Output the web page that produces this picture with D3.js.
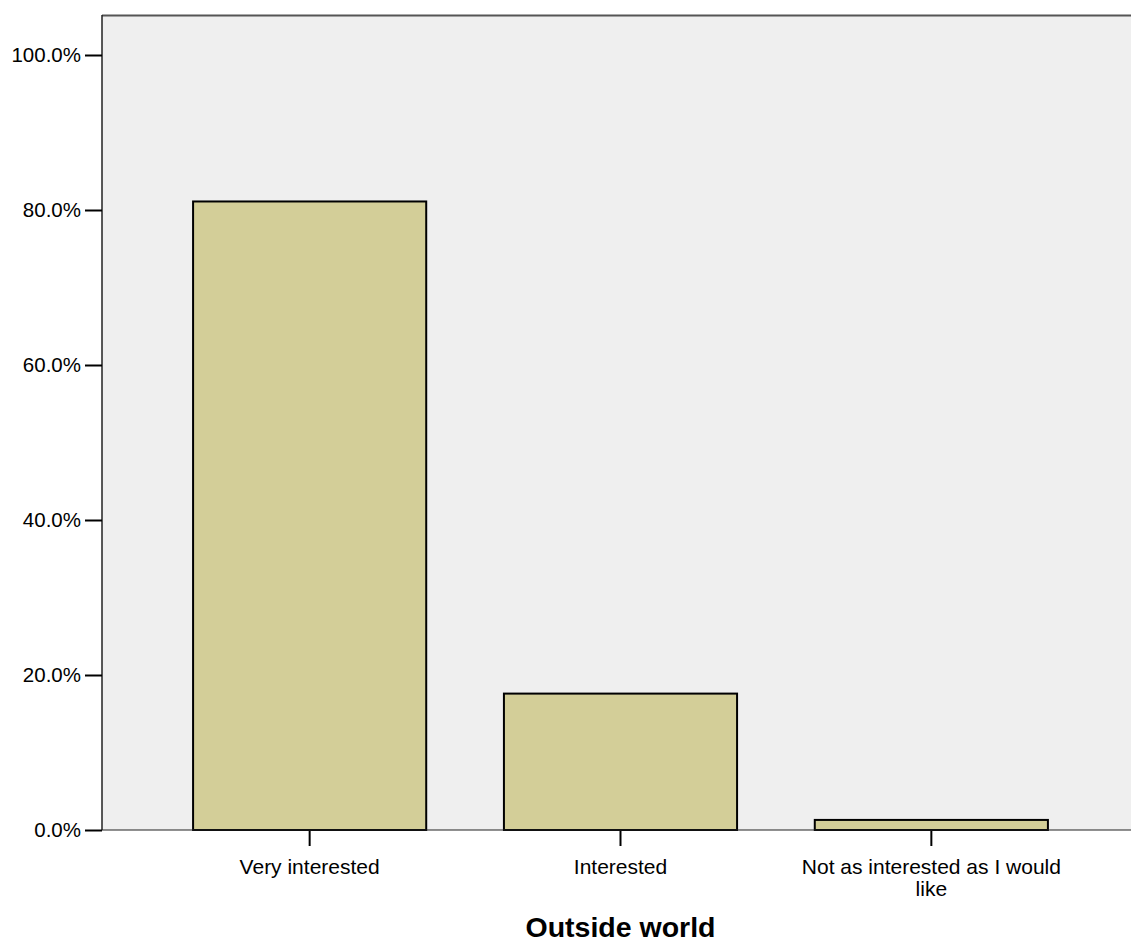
<!DOCTYPE html>
<html><head><meta charset="utf-8">
<script src="https://cdn.jsdelivr.net/npm/d3@7/dist/d3.min.js"></script>
<style>body{margin:0;background:#fff;} svg{display:block;font-family:"Liberation Sans",Arial,sans-serif;}</style>
</head><body>
<script>
const categories = ["Very interested", "Interested", "Not as interested as I would like"];
const values = [81.1, 17.6, 1.3];
const yTicks = [0, 20, 40, 60, 80, 100];
const xTitle = "Outside world";

const W = 1131, H = 944;
const mLeft = 102, mTop = 15, mBottom = 830, mRight = 1131;
const svg = d3.select("body").append("svg").attr("width", W).attr("height", H);

const y = d3.scaleLinear().domain([0, 100]).range([mBottom, 55]);
const x = d3.scaleBand().domain(categories).range([mLeft, 1139]).paddingInner(0.25).paddingOuter(0.293);

svg.append("rect").attr("x", mLeft).attr("y", mTop).attr("width", mRight - mLeft).attr("height", mBottom - mTop).attr("fill", "#efefef");
svg.append("line").attr("x1", mLeft).attr("x2", mRight).attr("y1", mTop + 0.5).attr("y2", mTop + 0.5).attr("stroke", "#555").attr("stroke-width", 2);

svg.append("g").selectAll("rect").data(values).join("rect")
  .attr("x", (d, i) => x(categories[i]))
  .attr("y", d => y(d))
  .attr("width", x.bandwidth())
  .attr("height", d => mBottom - y(d))
  .attr("fill", "#d3ce98").attr("stroke", "#000").attr("stroke-width", 2);

const yAxis = svg.append("g").attr("transform", `translate(${mLeft},0)`)
  .call(d3.axisLeft(y).tickValues(yTicks).tickSize(17).tickPadding(4).tickFormat(d => d.toFixed(1) + "%"));
yAxis.select(".domain").attr("d", `M0,${mTop}V${mBottom}`).attr("stroke", "#222").attr("stroke-width", 1.5);
yAxis.selectAll(".tick line").attr("stroke", "#000").attr("stroke-width", 2);
yAxis.selectAll("text").attr("font-size", 20.5).attr("fill", "#000").attr("font-family", "Liberation Sans, Arial, sans-serif");

const xAxis = svg.append("g").attr("transform", `translate(0,${mBottom})`)
  .call(d3.axisBottom(x).tickSize(16).tickPadding(13));
xAxis.select(".domain").remove();
svg.append("line").attr("x1", mLeft).attr("x2", mRight).attr("y1", mBottom).attr("y2", mBottom).attr("stroke", "#222").attr("stroke-width", 1.2);
xAxis.selectAll(".tick line").attr("stroke", "#000").attr("stroke-width", 2);
xAxis.selectAll("text").attr("font-size", 21).attr("fill", "#000").attr("font-family", "Liberation Sans, Arial, sans-serif")
  .each(function(d) {
    const t = d3.select(this);
    if (d.length > 20) {
      const words = ["Not as interested as I would", "like"];
      t.text(null);
      words.forEach((w, i) => t.append("tspan").attr("x", 0).attr("dy", i === 0 ? "0.71em" : "1.05em").text(w));
    }
  });

svg.append("text").attr("x", x(categories[1]) + x.bandwidth() / 2).attr("y", 937)
  .attr("text-anchor", "middle").attr("font-size", 28.5).attr("font-weight", "bold").text(xTitle);
</script>
</body></html>
